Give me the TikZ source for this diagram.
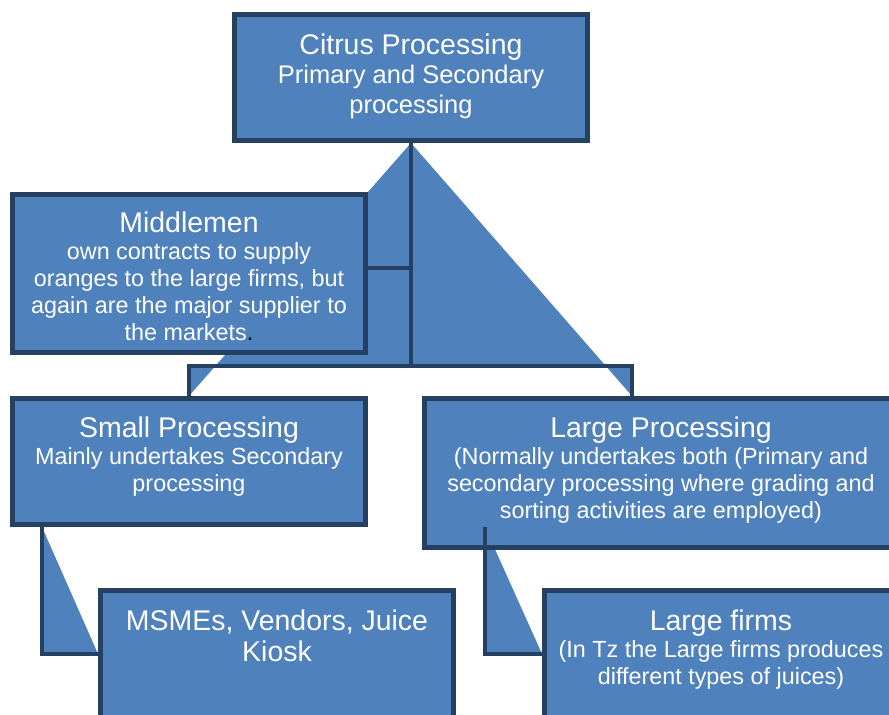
\documentclass[tikz,border=0pt]{standalone}
\usepackage{fontspec}
\setmainfont{Liberation Sans}
\usetikzlibrary{positioning}
\usetikzlibrary{backgrounds}
\definecolor{boxblue}{HTML}{4F81BD}
\definecolor{boxline}{HTML}{254061}
\newcommand{\headfont}{\fontsize{16.2}{17.6}\selectfont}
\newcommand{\bodyfont}{\fontsize{13.3}{15.3}\selectfont}
\newcommand{\Hd}[1]{{\headfont #1}}
\tikzset{
    blk/.style = {rectangle, line width=0.1cm, draw=boxline, fill=boxblue, minimum width=7.06cm},
    lbl/.style = {align=center, text=white, inner sep=0pt, font=\bodyfont},
    conn/.style = {line width=0.09cm, draw=boxline},
    connfill/.style = {fill=boxblue},
}

\begin{document}
\begin{tikzpicture}[x=0.02cm, y=-0.02cm]
\path[use as bounding box, clip] (0,0) rectangle (889,715);
% boxes
\node[blk, minimum height=2.52cm] at (411,77.5) (top) {};
\node[blk, minimum height=3.16cm] at (189,273.5) (mid) {};
\node[blk, minimum height=2.52cm] at (189,461.5) (small) {};
\node[blk, minimum width=9.46cm, minimum height=2.98cm] at (661,473) (large) {};
\node[blk, minimum height=3.34cm] at (277,674) (msme) {};
\node[blk, minimum height=3.34cm] at (721,674) (firms) {};
% texts
\node[lbl, font=\fontsize{14.5}{16.8}\selectfont, below=0.43cm of top.north] (topt)
    {\Hd{Citrus Processing}\\Primary and Secondary\\processing};
\node[lbl, below=0.39cm of mid.north] (midt)
    {\Hd{Middlemen}\\own contracts to supply\\oranges to the large firms, but\\again are the major supplier to\\the markets\textcolor{black}{.}};
\node[lbl, below=0.42cm of small.north] (smallt)
    {\Hd{Small Processing}\\Mainly undertakes Secondary\\processing};
\node[lbl, below=0.42cm of large.north] (larget)
    {\Hd{Large Processing}\\(Normally undertakes both (Primary and\\secondary processing where grading and\\sorting activities are employed)};
\node[lbl, font=\headfont, below=0.44cm of msme.north] (msmet)
    {MSMEs, Vendors, Juice\\Kiosk};
\node[lbl, below=0.44cm of firms.north] (firmst)
    {\Hd{Large firms}\\(In Tz the Large firms produces\\different types of juices)};
% levels of the connectors
\coordinate (lvl) at (0,366);
\coordinate (mlvl) at (0,268);
\coordinate (blvl) at (0,654);
\coordinate (lx) at (632,0);
\coordinate (sx) at (42,0);
\coordinate (gx) at (485,0);
% connector fills, behind the boxes
\begin{scope}[on background layer]
\fill[connfill] (top.south) -- (top.south |- lvl) -- (small.north |- lvl) -- (small.north) -- cycle;
\fill[connfill] (top.south) -- (top.south |- lvl) -- (lx |- lvl) -- (large.north -| lx) -- cycle;
\fill[connfill] (top.south) -- (top.south |- mlvl) -- (mid.east |- mlvl) -- cycle;
\fill[connfill] (small.south -| sx) -- (sx |- blvl) -- (msme.west |- blvl) -- cycle;
\fill[connfill] (gx |- small.south) -- (gx |- blvl) -- (firms.west |- blvl) -- cycle;
\end{scope}
% connector lines
\draw[conn] (top.south) -- (top.south |- lvl) -- (small.north |- lvl) -- (small.north);
\draw[conn] (top.south |- lvl) -- (lx |- lvl) -- (large.north -| lx);
\draw[conn] (top.south |- mlvl) -- (mid.east |- mlvl);
\draw[conn] (small.south -| sx) -- (sx |- blvl) -- (msme.west |- blvl);
\draw[conn] (gx |- small.south) -- (gx |- blvl) -- (firms.west |- blvl);
\end{tikzpicture}
\end{document}
